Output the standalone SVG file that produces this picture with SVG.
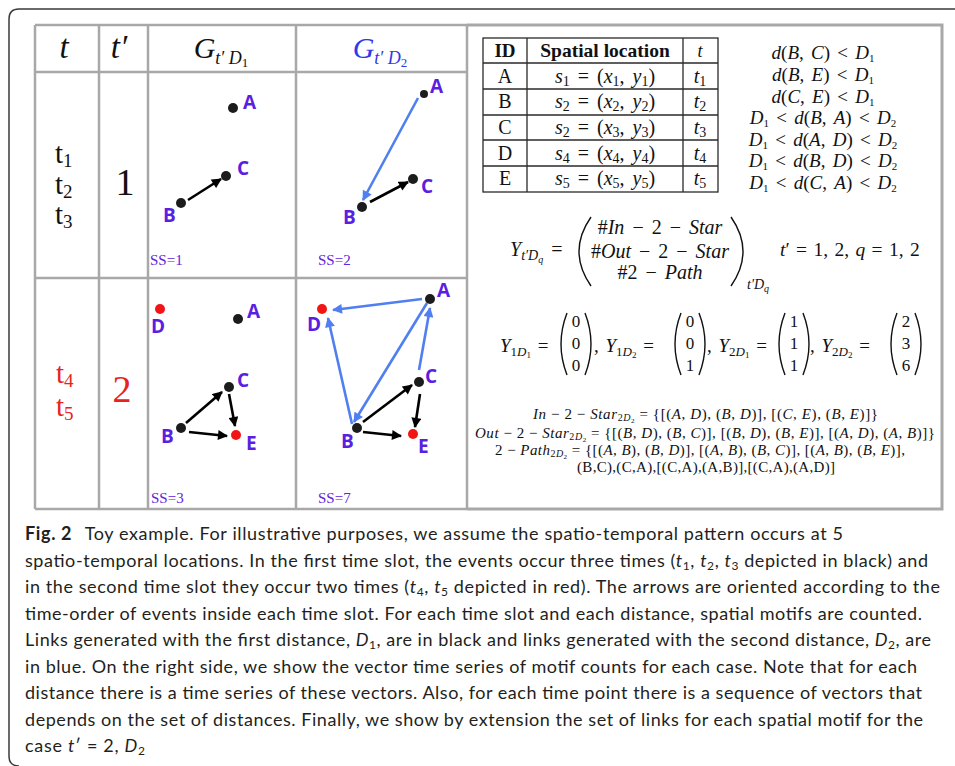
<svg xmlns="http://www.w3.org/2000/svg" width="955" height="766" viewBox="0 0 955 766">
<style>
.m{font-family:"Liberation Serif","DejaVu Serif",serif;fill:#111}
.i{font-style:italic}
.b{font-weight:bold}
.c{text-anchor:middle}
.ws{word-spacing:3px}
.grid{stroke:#a8a8a8;stroke-width:2.5;fill:none}
.tb{stroke:#2a2a2a;stroke-width:1.3;fill:none}
.lbl{font-family:"Open Sans","Liberation Sans",sans-serif;font-weight:bold;font-size:19px;fill:#5a1fe0}
.ss{font-family:"Liberation Serif","DejaVu Serif",serif;font-size:15px;fill:#6322dc}
.dot{fill:#1c1c1c}
.rdot{fill:#f21515}
.ka{stroke:#000;stroke-width:2.6;fill:none;marker-end:url(#hk)}
.ba{stroke:#4f7ff0;stroke-width:2.6;fill:none;marker-end:url(#hb)}
.cap{font-family:Lato,"Open Sans","Liberation Sans",sans-serif;font-size:18px;fill:#231f20}
.par{stroke:#111;stroke-width:1.4;fill:none}
</style>
<defs>
<marker id="hk" viewBox="0 0 10 10" refX="9" refY="5" markerWidth="11" markerHeight="10" markerUnits="userSpaceOnUse" orient="auto"><path d="M0,0 L10,5 L0,10 z" fill="#000"/></marker>
<marker id="hb" viewBox="0 0 10 10" refX="9" refY="5" markerWidth="11" markerHeight="10" markerUnits="userSpaceOnUse" orient="auto"><path d="M0,0 L10,5 L0,10 z" fill="#4f7ff0"/></marker>
</defs>
<rect width="955" height="766" fill="#fff"/>
<path d="M960 9 H19 Q9 9 9 19 V756 Q9 766 19 766" stroke="#3a3a3a" stroke-width="1.5" fill="none"/>

<g id="grid">
<path class="grid" d="M35 25 H467 M35 72 H467 M35 278 H467 M35 509 H467 M35 25 V509 M99 25 V509 M148 25 V509 M296 25 V509 M467 25 V509"/>
<path d="M467 25 H942 V509 H467" stroke="#a8a8a8" stroke-width="3" fill="none"/>
</g>

<g id="headers">
<text class="m i c" x="64" y="58" font-size="33">t</text>
<text class="m i c" x="119" y="58" font-size="33">t′</text>
<text class="m c" x="221" y="58" font-size="30"><tspan class="i">G</tspan><tspan class="i" font-size="18" baseline-shift="-6">t′ D</tspan><tspan font-size="13" baseline-shift="-9">1</tspan></text>
<text class="m c" x="380" y="58" font-size="30" style="fill:#2f39e8"><tspan class="i">G</tspan><tspan class="i" font-size="18" baseline-shift="-6">t′ D</tspan><tspan font-size="13" baseline-shift="-9">2</tspan></text>
</g>

<g id="row1-labels">
<text class="m" x="55" y="163" font-size="29">t<tspan font-size="19" baseline-shift="-4">1</tspan></text>
<text class="m" x="55" y="194" font-size="29">t<tspan font-size="19" baseline-shift="-4">2</tspan></text>
<text class="m" x="55" y="224" font-size="29">t<tspan font-size="19" baseline-shift="-4">3</tspan></text>
<text class="m c" x="125" y="195" font-size="38">1</text>
</g>
<g id="row2-labels">
<text class="m" x="56" y="383" font-size="29" style="fill:#e8231b">t<tspan font-size="19" baseline-shift="-4">4</tspan></text>
<text class="m" x="56" y="416" font-size="29" style="fill:#e8231b">t<tspan font-size="19" baseline-shift="-4">5</tspan></text>
<text class="m c" x="122" y="402" font-size="38" style="fill:#e8231b">2</text>
</g>

<g id="connectors">
<path class="ka" d="M188 200 L221 179"/>
<path class="ba" d="M418 98 L363 200"/>
<path class="ka" d="M370 202 L408 182"/>
<path class="ka" d="M186 423 L222 392"/>
<path class="ka" d="M229 394 L235 426"/>
<path class="ka" d="M189 432 L227 436"/>
<path class="ba" d="M422 299 L333 310"/>
<path class="ba" d="M352 424 L328 318"/>
<path class="ba" d="M427 303 L354 422"/>
<path class="ba" d="M419 370 L430 308"/>
<path class="ka" d="M363 422 L412 385"/>
<path class="ka" d="M420 394 L415 427"/>
<path class="ka" d="M363 432 L401 436"/>
</g>

<g id="g1d1">
<g id="g1d1-A"><circle class="dot" cx="233" cy="108" r="5"/><text class="lbl" x="243" y="109">A</text></g>
<g id="g1d1-C"><circle class="dot" cx="226" cy="176" r="5"/><text class="lbl" x="237" y="175">C</text></g>
<g id="g1d1-B"><circle class="dot" cx="181" cy="203" r="5"/><text class="lbl" x="163" y="222">B</text></g>
<text class="ss" x="150" y="265">SS=1</text>
</g>
<g id="g1d2">
<g id="g1d2-A"><circle class="dot" cx="424" cy="94" r="4"/><text class="lbl" x="430" y="93">A</text></g>
<g id="g1d2-C"><circle class="dot" cx="413" cy="179" r="5"/><text class="lbl" x="421" y="193">C</text></g>
<g id="g1d2-B"><circle class="dot" cx="362" cy="207" r="5"/><text class="lbl" x="343" y="224">B</text></g>
<text class="ss" x="318" y="265">SS=2</text>
</g>
<g id="g2d1">
<g id="g2d1-D"><circle class="rdot" cx="160" cy="309" r="5"/><text class="lbl" x="151" y="333">D</text></g>
<g id="g2d1-A"><circle class="dot" cx="238" cy="319" r="5"/><text class="lbl" x="247" y="318">A</text></g>
<g id="g2d1-C"><circle class="dot" cx="229" cy="387" r="5"/><text class="lbl" x="237" y="387">C</text></g>
<g id="g2d1-B"><circle class="dot" cx="181" cy="428" r="5"/><text class="lbl" x="161" y="443">B</text></g>
<g id="g2d1-E"><circle class="rdot" cx="236" cy="435" r="5"/><text class="lbl" x="246" y="450">E</text></g>
<text class="ss" x="151" y="503">SS=3</text>
</g>
<g id="g2d2">
<g id="g2d2-D"><circle class="rdot" cx="322" cy="309" r="5"/><text class="lbl" x="307" y="331">D</text></g>
<g id="g2d2-A"><circle class="dot" cx="430" cy="299" r="5"/><text class="lbl" x="437" y="297">A</text></g>
<g id="g2d2-C"><circle class="dot" cx="419" cy="382" r="5"/><text class="lbl" x="425" y="383">C</text></g>
<g id="g2d2-B"><circle class="dot" cx="357" cy="428" r="5"/><text class="lbl" x="341" y="448">B</text></g>
<g id="g2d2-E"><circle class="rdot" cx="413" cy="434" r="5"/><text class="lbl" x="418" y="453">E</text></g>
<text class="ss" x="318" y="503">SS=7</text>
</g>

<g id="loc-table">
<rect class="tb" x="483" y="38" width="235" height="154"/>
<path class="tb" d="M483 63 H718 M483 89 H718 M483 115 H718 M483 140 H718 M483 166 H718 M527 38 V192 M683 38 V192"/>
<text class="m b c" x="505" y="57" font-size="19">ID</text>
<text class="m b c" x="605" y="57" font-size="19.5">Spatial location</text>
<text class="m i c" x="700" y="57" font-size="18">t</text>
<text class="m c" x="505" y="83" font-size="20">A</text>
<text class="m c" x="505" y="108" font-size="20">B</text>
<text class="m c" x="505" y="134" font-size="20">C</text>
<text class="m c" x="505" y="160" font-size="20">D</text>
<text class="m c" x="505" y="185" font-size="20">E</text>
<text class="m c ws" x="605" y="83" font-size="20"><tspan class="i">s</tspan><tspan font-size="14" baseline-shift="-3">1</tspan> = (<tspan class="i">x</tspan><tspan font-size="14" baseline-shift="-3">1</tspan>, <tspan class="i">y</tspan><tspan font-size="14" baseline-shift="-3">1</tspan>)</text>
<text class="m c ws" x="605" y="108" font-size="20"><tspan class="i">s</tspan><tspan font-size="14" baseline-shift="-3">2</tspan> = (<tspan class="i">x</tspan><tspan font-size="14" baseline-shift="-3">2</tspan>, <tspan class="i">y</tspan><tspan font-size="14" baseline-shift="-3">2</tspan>)</text>
<text class="m c ws" x="605" y="134" font-size="20"><tspan class="i">s</tspan><tspan font-size="14" baseline-shift="-3">2</tspan> = (<tspan class="i">x</tspan><tspan font-size="14" baseline-shift="-3">3</tspan>, <tspan class="i">y</tspan><tspan font-size="14" baseline-shift="-3">3</tspan>)</text>
<text class="m c ws" x="605" y="160" font-size="20"><tspan class="i">s</tspan><tspan font-size="14" baseline-shift="-3">4</tspan> = (<tspan class="i">x</tspan><tspan font-size="14" baseline-shift="-3">4</tspan>, <tspan class="i">y</tspan><tspan font-size="14" baseline-shift="-3">4</tspan>)</text>
<text class="m c ws" x="605" y="185" font-size="20"><tspan class="i">s</tspan><tspan font-size="14" baseline-shift="-3">5</tspan> = (<tspan class="i">x</tspan><tspan font-size="14" baseline-shift="-3">5</tspan>, <tspan class="i">y</tspan><tspan font-size="14" baseline-shift="-3">5</tspan>)</text>
<text class="m c" x="700" y="83" font-size="20"><tspan class="i">t</tspan><tspan font-size="14" baseline-shift="-3">1</tspan></text>
<text class="m c" x="700" y="108" font-size="20"><tspan class="i">t</tspan><tspan font-size="14" baseline-shift="-3">2</tspan></text>
<text class="m c" x="700" y="134" font-size="20"><tspan class="i">t</tspan><tspan font-size="14" baseline-shift="-3">3</tspan></text>
<text class="m c" x="700" y="160" font-size="20"><tspan class="i">t</tspan><tspan font-size="14" baseline-shift="-3">4</tspan></text>
<text class="m c" x="700" y="185" font-size="20"><tspan class="i">t</tspan><tspan font-size="14" baseline-shift="-3">5</tspan></text>
</g>

<g id="distances">
<text class="m c" x="823" y="59" font-size="19" style="word-spacing:2.5px"><tspan class="i">d</tspan>(<tspan class="i">B</tspan>, <tspan class="i">C</tspan>) &lt; <tspan class="i">D</tspan><tspan font-size="11" baseline-shift="-2.5">1</tspan></text>
<text class="m c" x="823" y="81" font-size="19" style="word-spacing:2.5px"><tspan class="i">d</tspan>(<tspan class="i">B</tspan>, <tspan class="i">E</tspan>) &lt; <tspan class="i">D</tspan><tspan font-size="11" baseline-shift="-2.5">1</tspan></text>
<text class="m c" x="823" y="103" font-size="19" style="word-spacing:2.5px"><tspan class="i">d</tspan>(<tspan class="i">C</tspan>, <tspan class="i">E</tspan>) &lt; <tspan class="i">D</tspan><tspan font-size="11" baseline-shift="-2.5">1</tspan></text>
<text class="m c" x="823" y="124" font-size="19" style="word-spacing:2.5px"><tspan class="i">D</tspan><tspan font-size="11" baseline-shift="-2.5">1</tspan> &lt; <tspan class="i">d</tspan>(<tspan class="i">B</tspan>, <tspan class="i">A</tspan>) &lt; <tspan class="i">D</tspan><tspan font-size="11" baseline-shift="-2.5">2</tspan></text>
<text class="m c" x="823" y="146" font-size="19" style="word-spacing:2.5px"><tspan class="i">D</tspan><tspan font-size="11" baseline-shift="-2.5">1</tspan> &lt; <tspan class="i">d</tspan>(<tspan class="i">A</tspan>, <tspan class="i">D</tspan>) &lt; <tspan class="i">D</tspan><tspan font-size="11" baseline-shift="-2.5">2</tspan></text>
<text class="m c" x="823" y="167" font-size="19" style="word-spacing:2.5px"><tspan class="i">D</tspan><tspan font-size="11" baseline-shift="-2.5">1</tspan> &lt; <tspan class="i">d</tspan>(<tspan class="i">B</tspan>, <tspan class="i">D</tspan>) &lt; <tspan class="i">D</tspan><tspan font-size="11" baseline-shift="-2.5">2</tspan></text>
<text class="m c" x="823" y="189" font-size="19" style="word-spacing:2.5px"><tspan class="i">D</tspan><tspan font-size="11" baseline-shift="-2.5">1</tspan> &lt; <tspan class="i">d</tspan>(<tspan class="i">C</tspan>, <tspan class="i">A</tspan>) &lt; <tspan class="i">D</tspan><tspan font-size="11" baseline-shift="-2.5">2</tspan></text>
</g>

<g id="y-def">
<text class="m" x="510" y="256" font-size="20" style="word-spacing:3px"><tspan class="i">Y</tspan><tspan class="i" font-size="14" baseline-shift="-4">t′D</tspan><tspan class="i" font-size="10" baseline-shift="-7">q</tspan> =</text>
<path class="par" d="M591 217 Q567 251.5 591 286"/>
<path class="par" d="M731 217 Q755 251.5 731 286"/>
<text class="m c" x="660" y="234" font-size="20" style="word-spacing:3px">#<tspan class="i">In</tspan> − 2 − <tspan class="i">Star</tspan></text>
<text class="m c" x="660" y="258" font-size="20" style="word-spacing:3px">#<tspan class="i">Out</tspan> − 2 − <tspan class="i">Star</tspan></text>
<text class="m c" x="660" y="279" font-size="20" style="word-spacing:3px">#2 − <tspan class="i">Path</tspan></text>
<text class="m i" x="747" y="289" font-size="14">t′D<tspan font-size="10" baseline-shift="-3">q</tspan></text>
<text class="m" x="780" y="256" font-size="19.5" style="word-spacing:1.5px"><tspan class="i">t</tspan>′ = 1, 2, <tspan class="i">q</tspan> = 1, 2</text>
</g>

<g id="y-values">
<text class="m" x="500" y="352" font-size="19" style="word-spacing:2px"><tspan class="i">Y</tspan><tspan font-size="13" baseline-shift="-4">1<tspan class="i">D</tspan></tspan><tspan font-size="9" baseline-shift="-6">1</tspan> =</text>
<path class="par" d="M567 313 Q555 344 567 375"/><path class="par" d="M585 313 Q597 344 585 375"/>
<text class="m c" x="576" y="327" font-size="17">0</text><text class="m c" x="576" y="349" font-size="17">0</text><text class="m c" x="576" y="371" font-size="17">0</text>
<text class="m" x="594" y="352" font-size="19" style="word-spacing:2px">, <tspan class="i">Y</tspan><tspan font-size="13" baseline-shift="-4">1<tspan class="i">D</tspan></tspan><tspan font-size="9" baseline-shift="-6">2</tspan> =</text>
<path class="par" d="M681 313 Q669 344 681 375"/><path class="par" d="M699 313 Q711 344 699 375"/>
<text class="m c" x="690" y="327" font-size="17">0</text><text class="m c" x="690" y="349" font-size="17">0</text><text class="m c" x="690" y="371" font-size="17">1</text>
<text class="m" x="707" y="352" font-size="19" style="word-spacing:2px">, <tspan class="i">Y</tspan><tspan font-size="13" baseline-shift="-4">2<tspan class="i">D</tspan></tspan><tspan font-size="9" baseline-shift="-6">1</tspan> =</text>
<path class="par" d="M785 313 Q773 344 785 375"/><path class="par" d="M803 313 Q815 344 803 375"/>
<text class="m c" x="794" y="327" font-size="17">1</text><text class="m c" x="794" y="349" font-size="17">1</text><text class="m c" x="794" y="371" font-size="17">1</text>
<text class="m" x="810" y="352" font-size="19" style="word-spacing:2px">, <tspan class="i">Y</tspan><tspan font-size="13" baseline-shift="-4">2<tspan class="i">D</tspan></tspan><tspan font-size="9" baseline-shift="-6">2</tspan> =</text>
<path class="par" d="M897 313 Q885 344 897 375"/><path class="par" d="M915 313 Q927 344 915 375"/>
<text class="m c" x="906" y="327" font-size="17">2</text><text class="m c" x="906" y="349" font-size="17">3</text><text class="m c" x="906" y="371" font-size="17">6</text>
</g>

<g id="motif-sets">
<text class="m" x="533" y="419" font-size="15" textLength="345" lengthAdjust="spacing"><tspan class="i">In</tspan> − 2 − <tspan class="i">Star</tspan><tspan font-size="10" baseline-shift="-2">2<tspan class="i">D</tspan></tspan><tspan font-size="7" baseline-shift="-3.5">2</tspan> = {[(<tspan class="i">A</tspan>, <tspan class="i">D</tspan>), (<tspan class="i">B</tspan>, <tspan class="i">D</tspan>)], [(<tspan class="i">C</tspan>, <tspan class="i">E</tspan>), (<tspan class="i">B</tspan>, <tspan class="i">E</tspan>)]}</text>
<text class="m" x="475" y="438" font-size="15" textLength="460" lengthAdjust="spacing"><tspan class="i">Out</tspan> − 2 − <tspan class="i">Star</tspan><tspan font-size="10" baseline-shift="-2">2<tspan class="i">D</tspan></tspan><tspan font-size="7" baseline-shift="-3.5">2</tspan> = {[(<tspan class="i">B</tspan>, <tspan class="i">D</tspan>), (<tspan class="i">B</tspan>, <tspan class="i">C</tspan>)], [(<tspan class="i">B</tspan>, <tspan class="i">D</tspan>), (<tspan class="i">B</tspan>, <tspan class="i">E</tspan>)], [(<tspan class="i">A</tspan>, <tspan class="i">D</tspan>), (<tspan class="i">A</tspan>, <tspan class="i">B</tspan>)]}</text>
<text class="m" x="495" y="455" font-size="15" textLength="410" lengthAdjust="spacing">2 − <tspan class="i">Path</tspan><tspan font-size="10" baseline-shift="-2">2<tspan class="i">D</tspan></tspan><tspan font-size="7" baseline-shift="-3.5">2</tspan> = {[(<tspan class="i">A</tspan>, <tspan class="i">B</tspan>), (<tspan class="i">B</tspan>, <tspan class="i">D</tspan>)], [(<tspan class="i">A</tspan>, <tspan class="i">B</tspan>), (<tspan class="i">B</tspan>, <tspan class="i">C</tspan>)], [(<tspan class="i">A</tspan>, <tspan class="i">B</tspan>), (<tspan class="i">B</tspan>, <tspan class="i">E</tspan>)],</text>
<text class="m" x="577" y="472" font-size="15" textLength="258" lengthAdjust="spacing">(B,C),(C,A),[(C,A),(A,B)],[(C,A),(A,D)]</text>
</g>

<g id="caption">
<text class="cap" x="25" y="540" textLength="818" lengthAdjust="spacing"><tspan font-weight="bold">Fig. 2</tspan>&#8194;&#8201;Toy example. For illustrative purposes, we assume the spatio-temporal pattern occurs at 5</text>
<text class="cap" x="25" y="566.5" textLength="903" lengthAdjust="spacing">spatio-temporal locations. In the first time slot, the events occur three times (<tspan font-style="italic">t</tspan><tspan font-size="12" baseline-shift="-3">1</tspan>, <tspan font-style="italic">t</tspan><tspan font-size="12" baseline-shift="-3">2</tspan>, <tspan font-style="italic">t</tspan><tspan font-size="12" baseline-shift="-3">3</tspan> depicted in black) and</text>
<text class="cap" x="25" y="593" textLength="915" lengthAdjust="spacing">in the second time slot they occur two times (<tspan font-style="italic">t</tspan><tspan font-size="12" baseline-shift="-3">4</tspan>, <tspan font-style="italic">t</tspan><tspan font-size="12" baseline-shift="-3">5</tspan> depicted in red). The arrows are oriented according to the</text>
<text class="cap" x="25" y="619.5" textLength="897" lengthAdjust="spacing">time-order of events inside each time slot. For each time slot and each distance, spatial motifs are counted.</text>
<text class="cap" x="25" y="646" textLength="906" lengthAdjust="spacing">Links generated with the first distance, <tspan font-style="italic">D</tspan><tspan font-size="12" baseline-shift="-3">1</tspan>, are in black and links generated with the second distance, <tspan font-style="italic">D</tspan><tspan font-size="12" baseline-shift="-3">2</tspan>, are</text>
<text class="cap" x="25" y="672.5" textLength="892" lengthAdjust="spacing">in blue. On the right side, we show the vector time series of motif counts for each case. Note that for each</text>
<text class="cap" x="25" y="699" textLength="897" lengthAdjust="spacing">distance there is a time series of these vectors. Also, for each time point there is a sequence of vectors that</text>
<text class="cap" x="25" y="725.5" textLength="898" lengthAdjust="spacing">depends on the set of distances. Finally, we show by extension the set of links for each spatial motif for the</text>
<text class="cap" x="25" y="752" textLength="120" lengthAdjust="spacing">case <tspan font-style="italic">t</tspan>′ = 2, <tspan font-style="italic">D</tspan><tspan font-size="12" baseline-shift="-3">2</tspan></text>
</g>
</svg>
